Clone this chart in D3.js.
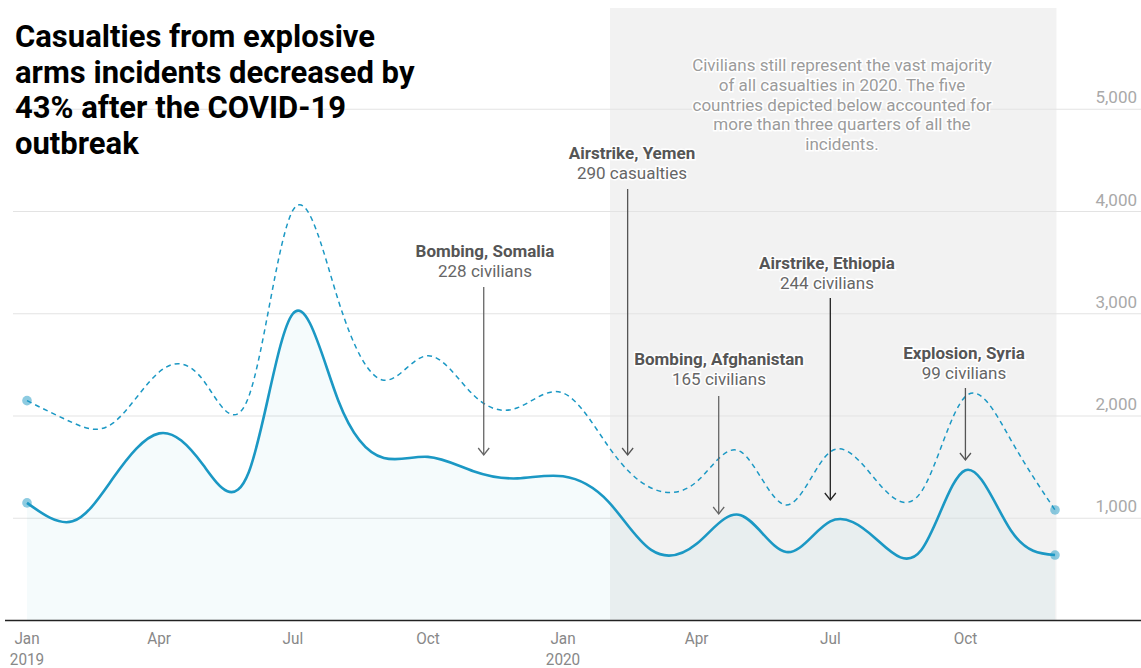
<!DOCTYPE html>
<html><head><meta charset="utf-8">
<script src="https://cdn.jsdelivr.net/npm/d3@7"></script>
<style>
body{margin:0;background:#fff;}
svg{display:block;font-family:Roboto, "Noto Sans", sans-serif;}
</style></head><body>
<svg id="chart" width="1141" height="668"></svg>
<script>
// ---------- data ----------
const months = ["2019-01","2019-02","2019-03","2019-04","2019-05","2019-06","2019-07","2019-08","2019-09","2019-10","2019-11","2019-12",
                "2020-01","2020-02","2020-03","2020-04","2020-05","2020-06","2020-07","2020-08","2020-09","2020-10","2020-11","2020-12"];
const civilians  = [1150, 970, 1400, 1830, 1520, 1450, 3000, 2150, 1590, 1600, 1460, 1390,
                    1410, 1160, 690, 750, 1030, 670, 970, 800, 690, 1470, 880, 640];
const casualties = [2150, 1935, 1935, 2430, 2350, 2190, 4010, 3130, 2350, 2590, 2205, 2080,
                    2225, 1700, 1296, 1357, 1651, 1130, 1650, 1374, 1260, 2190, 1765, 1081];
const yTickValues = [1000, 2000, 3000, 4000, 5000];
const xTickDates = ["2019-01","2019-04","2019-07","2019-10","2020-01","2020-04","2020-07","2020-10"];
const xTickLabels = ["Jan","Apr","Jul","Oct","Jan","Apr","Jul","Oct"];
const xTickYears  = ["2019","","","","2020","","",""];
const covidPeriod = ["2020-02-02","2020-12-02"];
const titleLines = ["Casualties from explosive","arms incidents decreased by","43% after the COVID-19","outbreak"];
const noteLines = ["Civilians still represent the vast majority","of all casualties in 2020. The five",
                   "countries depicted below accounted for","more than three quarters of all the","incidents."];
const annTitles = ["Bombing, Somalia","Airstrike, Yemen","Bombing, Afghanistan","Airstrike, Ethiopia","Explosion, Syria"];
const annSubs   = ["228 civilians","290 casualties","165 civilians","244 civilians","99 civilians"];
const annDates  = ["2019-11-08","2020-02-14","2020-04-16","2020-07-01","2020-10-01"];

// ---------- layout ----------
const parse = d3.timeParse("%Y-%m");
const parseDay = d3.timeParse("%Y-%m-%d");
const svg = d3.select("#chart");
const x = d3.scaleTime().domain([parse("2019-01"), parse("2020-12")]).range([27, 1055]);
const y = d3.scaleLinear().domain([0, 5000]).range([620.5, 109.25]);
const lineColor = "#1b98c4";

const dataC = months.map((m,i)=>({d:parse(m), v:civilians[i]}));
const dataT = months.map((m,i)=>({d:parse(m), v:casualties[i]}));

// covid shaded period
svg.append("rect")
  .attr("x", x(parseDay(covidPeriod[0]))).attr("y", 8)
  .attr("width", x(parseDay(covidPeriod[1])) - x(parseDay(covidPeriod[0])))
  .attr("height", y(0) - 8)
  .attr("fill", "#f2f2f2");

// gridlines + y labels
const gy = svg.append("g");
yTickValues.forEach(v=>{
  gy.append("line").attr("x1",13).attr("x2",1141).attr("y1",y(v)).attr("y2",y(v))
    .attr("stroke","#e3e3e3").attr("stroke-width",1);
  gy.append("text").attr("x",1137).attr("y",y(v)-6).attr("text-anchor","end")
    .attr("font-size",17).attr("fill","#a9a9a9").text(d3.format(",")(v));
});

const curve = d3.curveNatural;
// area
svg.append("path").datum(dataC)
  .attr("d", d3.area().x(d=>x(d.d)).y0(y(0)).y1(d=>y(d.v)).curve(curve))
  .attr("fill", lineColor).attr("fill-opacity", 0.045);

// x axis line
svg.append("line").attr("x1",5).attr("x2",1141).attr("y1",y(0)).attr("y2",y(0))
  .attr("stroke","#222").attr("stroke-width",1.6);

// x labels (slightly condensed)
xTickDates.forEach((m,i)=>{
  const xx = x(parse(m));
  svg.append("text").attr("transform",`translate(${xx},644) scale(0.9,1)`).attr("text-anchor","middle")
    .attr("font-size",17).attr("fill","#888").text(xTickLabels[i]);
  if (xTickYears[i]) svg.append("text").attr("transform",`translate(${xx},665) scale(0.9,1)`).attr("text-anchor","middle")
    .attr("font-size",17).attr("fill","#888").text(xTickYears[i]);
});

// lines
svg.append("path").datum(dataT)
  .attr("d", d3.line().x(d=>x(d.d)).y(d=>y(d.v)).curve(curve))
  .attr("fill","none").attr("stroke",lineColor).attr("stroke-width",1.5)
  .attr("stroke-dasharray","5,4");
svg.append("path").datum(dataC)
  .attr("d", d3.line().x(d=>x(d.d)).y(d=>y(d.v)).curve(curve))
  .attr("fill","none").attr("stroke",lineColor).attr("stroke-width",2.6);

// end dots
[dataC, dataT].forEach(ds=>{
  [ds[0], ds[ds.length-1]].forEach(p=>{
    svg.append("circle").attr("cx",x(p.d)).attr("cy",y(p.v)).attr("r",4.8)
      .attr("fill",lineColor).attr("fill-opacity",0.5);
  });
});

// title
const title = svg.append("text").attr("x",15).attr("font-size",31).attr("font-weight",700).attr("fill","#000");
titleLines.forEach((t,i)=>{
  title.append("tspan").attr("x",15).attr("y",47 + i*35.7).text(t);
});

// note
const note = svg.append("text").attr("text-anchor","middle").attr("font-size",17)
  .attr("fill","#9b9b9b").attr("stroke","#fff").attr("stroke-width",3).attr("paint-order","stroke");
noteLines.forEach((t,i)=>{
  note.append("tspan").attr("x",842).attr("y",71 + i*19.8).text(t);
});

// annotations
const annLayout = [
  {tx:485, ty:257, y1:287, y2:455, col:"#666"},
  {tx:632, ty:159, y1:189, y2:455, col:"#555"},
  {tx:719, ty:365, y1:396, y2:514, col:"#666"},
  {tx:827, ty:269, y1:298, y2:500, col:"#222"},
  {tx:964, ty:359, y1:388, y2:460, col:"#555"}
];
annTitles.forEach((t,i)=>{
  const L = annLayout[i];
  const ax = x(parseDay(annDates[i]));
  const g = svg.append("g");
  g.append("line").attr("x1",ax).attr("x2",ax).attr("y1",L.y1).attr("y2",L.y2)
    .attr("stroke",L.col).attr("stroke-width",1.3);
  g.append("path").attr("d",`M${ax-5.5},${L.y2-7}L${ax},${L.y2}L${ax+5.5},${L.y2-7}`)
    .attr("fill","none").attr("stroke",L.col).attr("stroke-width",1.3);
  const tx = g.append("text").attr("text-anchor","middle").attr("font-size",17)
    .attr("stroke","#fff").attr("stroke-width",3).attr("paint-order","stroke");
  tx.append("tspan").attr("x",L.tx).attr("y",L.ty).attr("font-weight",700).attr("fill","#555").text(t);
  tx.append("tspan").attr("x",L.tx).attr("y",L.ty+20).attr("fill","#666").text(annSubs[i]);
});
</script>
</body></html>
